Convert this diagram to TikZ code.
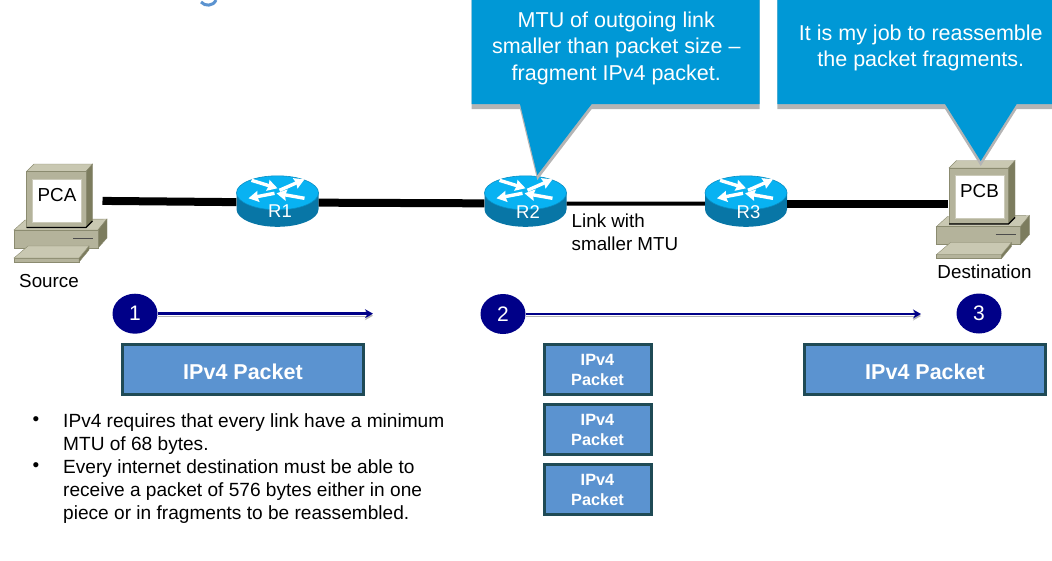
\documentclass[tikz,border=0pt]{standalone}
\usepackage{fontspec}
\setmainfont{Liberation Sans}
\usetikzlibrary{arrows.meta, positioning, shapes.geometric}

\definecolor{calloutblue}{HTML}{0098D6}
\definecolor{calloutshadow}{HTML}{B4B4B4}
\definecolor{routertop}{HTML}{08B2F2}
\definecolor{routerside}{HTML}{0876A6}
\definecolor{pcfront}{HTML}{B4B39B}
\definecolor{pctop}{HTML}{C9C8B2}
\definecolor{pcside}{HTML}{7C7C5E}
\definecolor{pcline}{HTML}{8B8B70}
\definecolor{stepnavy}{HTML}{000088}
\definecolor{packetfill}{HTML}{5B93D0}
\definecolor{packetline}{HTML}{1F4A55}

\tikzset{
    pics/routericon/.style={code={
        \fill[routerside] (-41,-9) -- (-41,8) arc[start angle=180, end angle=0, x radius=41, y radius=17.5] -- (41,-9) -- cycle;
        \draw[fill=routertop, draw=routerside!60!routertop, line width=0.6pt] (0,-8.5) ellipse [x radius=41, y radius=17];
        \draw[routerarrow] (-26,-21) -- (0,-13);
        \draw[routerarrow] (2,-11) -- (27,-22);
        \draw[routerarrow] (-3,-8) -- (-29,-3);
        \draw[routerarrow] (27,-3) -- (-1,-8);
    }},
    pics/pcicon/.style={code={
        % base and keyboard
        \draw[fill=pctop, draw=pcline] (14,230) -- (25,220) -- (107,219) -- (98,230) -- cycle;
        \draw[fill=pcside, draw=pcline] (98,230) -- (107,219) -- (107,238) -- (98,248) -- cycle;
        \draw[fill=pcfront, draw=pcline] (14,230) rectangle (98,248);
        \draw[black!70, line width=1pt] (73,238) -- (93,238);
        \draw[fill=pcfront, draw=pcline] (14,258) -- (79,258) -- (79,262) -- (14,262) -- cycle;
        \draw[fill=pcside, draw=pcline] (79,258) -- (89,246) -- (89,250) -- (79,262) -- cycle;
        \draw[fill=pctop, draw=pcline] (14,258) -- (28,246) -- (89,246) -- (79,258) -- cycle;
        % monitor
        \draw[fill=pctop, draw=pcline] (26.5,171.5) -- (34,164) -- (92.5,164) -- (86,171.5) -- cycle;
        \draw[fill=pcside, draw=pcline] (86,171.5) -- (92.5,164) -- (92.5,221) -- (86,227) -- cycle;
        \draw[fill=pcfront, draw=pcline] (26.5,171.5) rectangle (86,227);
        \draw[black, line width=1.2pt] (26.5,227.5) -- (86,227.5) -- (92.5,221);
    }},
    pics/calloutshape/.style args={#1/#2/#3/#4/#5/#6}{code={
        \fill[calloutshadow] (#1,0) -- (#1,109) -- (#3,109) -- (#5,#6+5) -- (#4,109) -- (#2,109) -- (#2,0) -- cycle;
        \fill[calloutblue] (#1,0) -- (#1,104) -- (#3,104) -- (#5,#6) -- (#4,104) -- (#2,104) -- (#2,0) -- cycle;
    }}
}

\begin{document}
\begin{tikzpicture}[
        x=1pt, y=-1pt,
        node distance=7pt,
        routerarrow/.style={white, line width=3.4pt, -{Stealth[length=10pt, width=11pt, inset=1pt]}},
        routerbox/.style={minimum width=82pt, inner sep=0pt, text height=29.5pt, text depth=0pt, text=white, font=\fontsize{18.5}{22}\selectfont, execute at begin node=\hspace{5pt}},
        screenbox/.style={fill=white, draw=pcfront!70!white, line width=1pt, minimum width=49pt, inner sep=0pt, text height=22pt, text depth=21pt, font=\fontsize{18.8}{22}\selectfont},
        caption/.style={font=\fontsize{18.8}{23}\selectfont, align=left, inner sep=0pt},
        calloutbox/.style={text=white, align=center, inner sep=0pt, font=\fontsize{21.5}{26.5}\selectfont},
        thicklink/.style={black, line width=8pt},
        thinlink/.style={black, line width=4pt},
        stepdot/.style={ellipse, fill=stepnavy, text=white, minimum width=45pt, minimum height=40pt, inner sep=0pt, font=\fontsize{21}{24}\selectfont},
        steparrow/.style={stepnavy, line width=2.5pt, -{Stealth[length=8pt, width=9pt]},
            preaction={draw=calloutshadow, transform canvas={yshift=-2pt}}},
        bigpacket/.style={fill=packetfill, draw=packetline, line width=3pt, minimum width=241pt, minimum height=50pt, inner sep=0pt, text=white, text height=20pt, text depth=0pt, font=\bfseries\fontsize{21.5}{26}\selectfont},
        smallpacket/.style={fill=packetfill, draw=packetline, line width=3pt, minimum width=107pt, minimum height=50pt, inner sep=0pt, text=white, align=center, text height=33pt, text depth=0pt, font=\bfseries\fontsize{16.3}{20}\selectfont},
        bulletmark/.style={font=\fontsize{19}{23}\selectfont, inner sep=0pt},
        bullettext/.style={anchor=west, align=left, inner sep=0pt, font=\fontsize{19.1}{23}\selectfont}
    ]
        \useasboundingbox (0,0) rectangle (1052,560);
        \clip (0,0) rectangle (1052,560);

        % rest of the cut off heading
        \draw[packetfill, line width=3pt] (201,2) .. controls (205,6.5) and (213,6.5) .. (216,0);

        % PCs and routers
        \pic at (0,0) {pcicon};
        \pic at (922.5,-3.5) {pcicon};
        \pic at (277.5,201.3) {routericon};
        \pic at (525.5,201.3) {routericon};
        \pic at (746,201.3) {routericon};

        \node[screenbox] (PCA) at (57,200.5) {PCA};
        \node[screenbox] (PCB) at (979.5,196.5) {PCB};
        \node[routerbox] (R1) at (277.5,202.5) {R1};
        \node[routerbox] (R2) at (525.5,203.5) {R2};
        \node[routerbox] (R3) at (746,203.8) {R3};

        % links
        \draw[thicklink, shorten <=20.5pt] (PCA) -- (R1);
        \draw[thicklink] (R1) -- (R2);
        \draw[thinlink] (R2) -- (R3);
        \draw[thicklink, shorten >=7pt] (R3) -- (R3 -| PCB.west);

        \node[caption] (source) at (49,281.5) {Source};
        \node[caption] (destination) at (984.5,271.5) {Destination};
        \node[caption, anchor=west] (linklabel) at (571.5,232) {Link with\\smaller MTU};

        % callouts
        \pic at (0,0) {calloutshape={471.7/759.7/520/591.7/537.3/175}};
        \pic at (0,0) {calloutshape={777.3/1053/945/1016.7/980.7/161}};
        \node[calloutbox] (fragnote) at (616.3,48) {MTU of outgoing link\\smaller than packet size --\\fragment IPv4 packet.};
        \node[calloutbox] (joinnote) at (920.8,48) {It is my job to reassemble\\the packet fragments.};

        % steps
        \node[stepdot] (step1) at (135,313.7) {1};
        \node[stepdot] (step2) at (503,314) {2};
        \node[stepdot] (step3) at (979,313.5) {3};
        \coordinate (end1) at (373,313.7);
        \coordinate (end2) at (921,314);
        \draw[steparrow] (step1) -- (end1);
        \draw[steparrow] (step2) -- (end2);

        % packets
        \node[bigpacket] (packetA) at (243,369) {IPv4 Packet};
        \node[bigpacket] (packetB) at (925,369) {IPv4 Packet};
        \node[smallpacket] (frag1) at (597.5,369) {IPv4\\Packet};
        \node[smallpacket, below=of frag1] (frag2) {IPv4\\Packet};
        \node[smallpacket, below=of frag2] (frag3) {IPv4\\Packet};

        % notes
        \node[bulletmark] (dot1) at (36,421) {•};
        \node[bulletmark] (dot2) at (36,467) {•};
        \node[bullettext] (note1) at (63,434) {IPv4 requires that every link have a minimum\\MTU of 68 bytes.};
        \node[bullettext] (note2) at (63,492) {Every internet destination must be able to\\receive a packet of 576 bytes either in one\\piece or in fragments to be reassembled.};
    \end{tikzpicture}
\end{document}
